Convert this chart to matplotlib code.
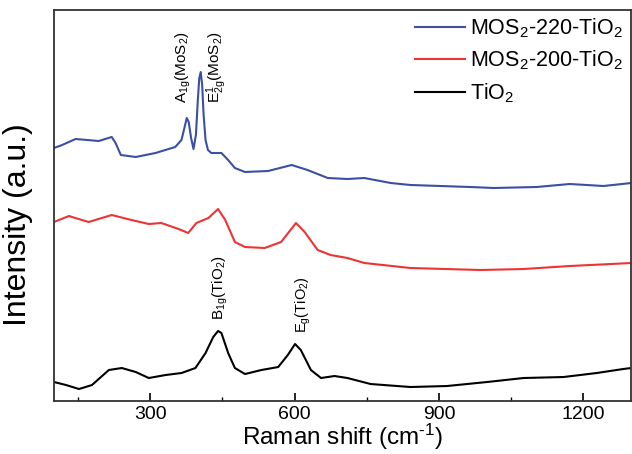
import matplotlib
matplotlib.use("Agg")
import matplotlib.pyplot as plt

plt.rcParams['font.family'] = ['Liberation Sans', 'DejaVu Sans']
plt.rcParams['mathtext.fontset'] = 'custom'
plt.rcParams['mathtext.rm'] = 'Liberation Sans'
plt.rcParams['mathtext.it'] = 'Liberation Sans:italic'
plt.rcParams['mathtext.default'] = 'regular'

# Raman shift (cm^-1) and intensity (a.u., offset stacked)
tio2_x = [100, 125, 152, 179, 214, 241, 270, 297, 332, 365, 394, 415, 431, 441, 448,
          462, 476, 497, 531, 566, 586, 601, 613, 634, 655, 683, 710, 758, 841, 917,
          1000, 1076, 1159, 1228, 1283, 1300]
tio2_y = [19, 16, 12, 16, 31, 33, 29, 23, 26, 28, 33, 48, 64, 70, 68,
          48, 33, 27, 31, 34, 46, 57, 51, 31, 23, 25, 23, 17, 14, 15,
          19, 23, 24, 28, 32, 33]

mos200_x = [100, 131, 172, 220, 261, 297, 323, 359, 379, 396, 421, 441, 456, 476,
            497, 538, 572, 603, 621, 648, 675, 710, 745, 841, 986, 1076, 1172, 1300]
mos200_y = [179, 185, 179, 186, 181, 177, 178, 172, 168, 178, 183, 192, 181, 159,
            154, 153, 159, 178, 169, 151, 146, 143, 138, 133, 131, 132, 135, 138]

mos220_x = [100, 117, 145, 193, 220, 228, 239, 270, 311, 352, 365, 370, 376, 380,
            385, 390, 395, 399, 402, 405, 408, 411, 415, 420, 427, 448, 462, 476,
            497, 545, 594, 627, 669, 710, 745, 800, 841, 965, 1014, 1103, 1172,
            1242, 1300]
mos220_y = [253, 256, 262, 260, 264, 258, 246, 244, 248, 254, 261, 271, 283, 279,
            263, 252, 266, 301, 323, 329, 316, 286, 261, 251, 248, 248, 241, 233,
            229, 230, 236, 231, 223, 222, 223, 218, 216, 214, 213, 214, 217,
            215, 218]

labels = ['MOS$_2$-220-TiO$_2$', 'MOS$_2$-200-TiO$_2$', 'TiO$_2$']
colors = ['#3b4fa6', '#ee3333', '#000000']

fig = plt.figure(figsize=(6.32, 4.54), dpi=100)
ax = fig.add_axes([0.0854, 0.1167, 0.9136, 0.8613])

ax.plot(mos220_x, mos220_y, color=colors[0], lw=1.5, label=labels[0])
ax.plot(mos200_x, mos200_y, color=colors[1], lw=1.5, label=labels[1])
ax.plot(tio2_x, tio2_y, color=colors[2], lw=1.5, label=labels[2])

ax.set_xlim(100, 1300)
ax.set_ylim(0, 391)
ax.set_xticks([300, 600, 900, 1200])
ax.set_xticks([150, 450, 750, 1050], minor=True)
ax.set_yticks([])
ax.tick_params(axis='x', which='major', direction='in', length=6, width=1.2,
               labelsize=14, pad=3.5, top=False)
ax.tick_params(axis='x', which='minor', direction='in', length=3, width=1.0, top=False)
for s in ax.spines.values():
    s.set_linewidth(1.3)
    s.set_color('#333333')

ax.set_xlabel(r'Raman shift (cm$^{\text{-}1}$)', fontsize=17.5, labelpad=-0.5)
ax.set_ylabel('Intensity (a.u.)', fontsize=23)
ax.yaxis.set_label_coords(-0.036, 0.45)

ann = [
    ('A$_{1g}$(MoS$_2$)', 369, 298, 11),
    ('E$^1_{2g}$(MoS$_2$)', 439, 298, 11),
    ('B$_{1g}$(TiO$_2$)', 446, 81, 11),
    ('E$_g$(TiO$_2$)', 619, 68, 10.5),
]
for t, x, y, fs in ann:
    ax.text(x, y, t, rotation=90, ha='center', va='bottom', fontsize=fs)

ax.legend(loc='upper right', bbox_to_anchor=(1.0, 1.005), frameon=False,
          fontsize=15.5, handlelength=2.3, handletextpad=0.25, labelspacing=0.4,
          borderaxespad=0.0)

fig.savefig('out.png', dpi=100)
